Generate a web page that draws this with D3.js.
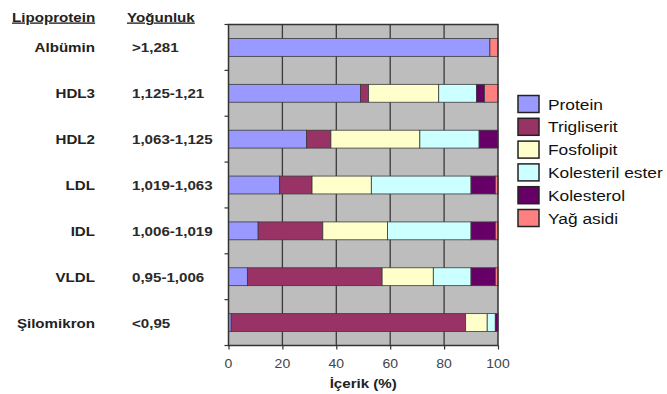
<!DOCTYPE html>
<html>
<head>
<meta charset="utf-8">
<script src="https://cdn.jsdelivr.net/npm/d3@7/dist/d3.min.js"></script>
<style>
  html, body { margin: 0; padding: 0; background: #fff; }
  svg { display: block; font-family: "Liberation Sans", Arial, sans-serif; }
</style>
</head>
<body>
<svg id="chart" width="667" height="394"></svg>
<script>
// Lipoprotein classes, their density ranges and composition (%)
const categories = ["Albümin", "HDL3", "HDL2", "LDL", "IDL", "VLDL", "Şilomikron"];
const densities = [">1,281", "1,125-1,21", "1,063-1,125", "1,019-1,063", "1,006-1,019", "0,95-1,006", "<0,95"];
const components = ["Protein", "Trigliserit", "Fosfolipit", "Kolesteril ester", "Kolesterol", "Yağ asidi"];

const protein         = [97, 49, 29, 19, 11,  7,  1];
const trigliserit     = [ 0,  3,  9, 12, 24, 50, 87];
const fosfolipit      = [ 0, 26, 33, 22, 24, 19,  8];
const kolesterilEster = [ 0, 14, 22, 37, 31, 14,  3];
const kolesterol      = [ 0,  3,  7,  9,  9,  9,  1];
const yagAsidi        = [ 3,  5,  0,  1,  1,  1,  0];

const xTicks = [0, 20, 40, 60, 80, 100];
const colors = ["#9999ff", "#993366", "#ffffcc", "#ccffff", "#660066", "#ff8080"];

const seriesValues = [protein, trigliserit, fosfolipit, kolesterilEster, kolesterol, yagAsidi];
const rows = categories.map((c, i) => {
  const r = { category: c };
  components.forEach((k, j) => { r[k] = seriesValues[j][i]; });
  return r;
});

const svg = d3.select("#chart");
const SX = 1.12; // slightly widened lettering

function label(g, x, y, text, opts = {}) {
  return g.append("text")
    .attr("transform", `translate(${x},${y}) scale(${SX},1)`)
    .attr("text-anchor", opts.anchor || "start")
    .attr("font-size", opts.size || 13.5)
    .attr("font-weight", opts.weight || "bold")
    .attr("fill", opts.fill || "#222")
    .style("text-decoration", opts.underline ? "underline" : null)
    .text(text);
}

const x = d3.scaleLinear().domain([0, 100]).range([228.5, 498]);
const y = d3.scaleBand().domain(categories).range([24.5, 345.5])
  .paddingInner(0.61).paddingOuter(0.305);

// plot background
svg.append("rect")
  .attr("x", x(0)).attr("y", y.range()[0])
  .attr("width", x(100) - x(0)).attr("height", y.range()[1] - y.range()[0])
  .attr("fill", "#bdbdbd");

// vertical gridlines
svg.append("g").selectAll("line")
  .data(xTicks.slice(1, -1))
  .join("line")
  .attr("x1", d => x(d)).attr("x2", d => x(d))
  .attr("y1", y.range()[0]).attr("y2", y.range()[1])
  .attr("stroke", "#3a3a3a").attr("stroke-width", 1.3);

// stacked bars
const stack = d3.stack().keys(components);
const layers = stack(rows);
svg.append("g").selectAll("g")
  .data(layers)
  .join("g")
  .attr("fill", (d, i) => colors[i])
  .selectAll("rect")
  .data(d => d.filter(p => p[1] - p[0] > 0))
  .join("rect")
  .attr("x", d => x(d[0]))
  .attr("y", d => y(d.data.category))
  .attr("width", d => x(d[1]) - x(d[0]))
  .attr("height", y.bandwidth())
  .attr("stroke", "#3a3a3a").attr("stroke-width", 0.8);

// plot frame
svg.append("rect")
  .attr("x", x(0)).attr("y", y.range()[0])
  .attr("width", x(100) - x(0)).attr("height", y.range()[1] - y.range()[0])
  .attr("fill", "none").attr("stroke", "#333").attr("stroke-width", 1.5);

// category axis ticks on band boundaries
const bounds = d3.range(categories.length + 1).map(i => y.range()[0] + i * y.step());
svg.append("g").selectAll("line")
  .data(bounds)
  .join("line")
  .attr("x1", x(0) - 4).attr("x2", x(0))
  .attr("y1", d => d).attr("y2", d => d)
  .attr("stroke", "#333").attr("stroke-width", 1.2);

// value axis
const xAxis = svg.append("g")
  .attr("transform", `translate(0,${y.range()[1]})`)
  .call(d3.axisBottom(x).tickValues(xTicks).tickSize(4).tickFormat(d3.format("d")));
xAxis.select(".domain").remove();
xAxis.selectAll(".tick line").attr("stroke", "#333").attr("stroke-width", 1.2);
xAxis.selectAll(".tick text").remove();
xTicks.forEach(t => {
  label(svg, x(t), 367.5, String(t), { anchor: "middle", size: 12.5, weight: "normal", fill: "#444" });
});
label(svg, (x(0) + x(100)) / 2, 388, "İçerik (%)", { anchor: "middle", size: 13.5 });

// left-hand table: names and densities
label(svg, 12, 21.5, "Lipoprotein", { underline: true });
label(svg, 127, 21.5, "Yoğunluk", { underline: true });
categories.forEach((c, i) => {
  const cy = y(c) + y.bandwidth() / 2 + 5;
  label(svg, 95, cy, c, { anchor: "end" });
  label(svg, 132, cy, densities[i], { fill: "#2a2a2a" });
});

// legend
const legend = svg.append("g");
components.forEach((k, i) => {
  const cy = 104 + i * 22.8;
  legend.append("rect")
    .attr("x", 518).attr("y", cy - 8.5)
    .attr("width", 21).attr("height", 17)
    .attr("fill", colors[i]).attr("stroke", "#222").attr("stroke-width", 1.5);
  label(legend, 548, cy + 5.5, k, { size: 15.5, weight: "normal", fill: "#111" });
});
</script>
</body>
</html>
